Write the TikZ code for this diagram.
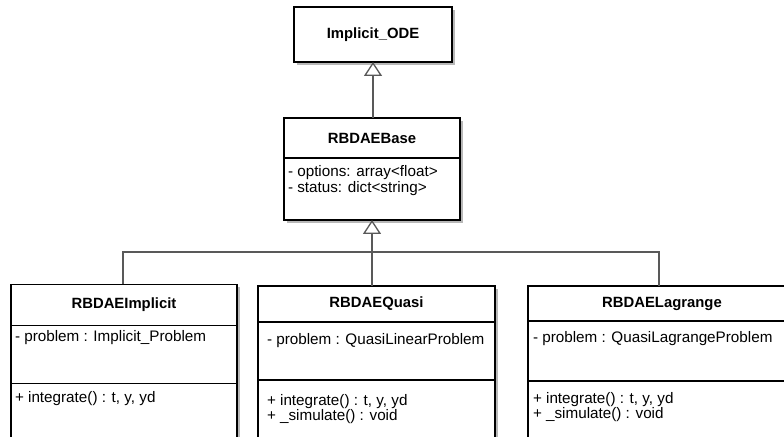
\documentclass[tikz,border=0pt]{standalone}
\usepackage{fontspec}
\setmainfont{Liberation Sans}
\usetikzlibrary{arrows.meta,shadows}
\begin{document}
\begin{tikzpicture}[x=1bp,y=-1bp,
  every node/.style={inner sep=0pt,outer sep=0pt},
  umlbox/.style={draw=black,line width=1.8bp,fill=white,rectangle,
    drop shadow={shadow xshift=3bp,shadow yshift=-3bp,fill=black!28,opacity=1}},
  hdr/.style={umlbox,font=\fontsize{14.9}{16}\selectfont\bfseries},
  txt/.style={anchor=base west,font=\fontsize{15.3}{16}\selectfont},
  conn/.style={draw=black!65,line width=1.3bp},
  inh/.style={conn,-{Triangle[open,length=14bp,width=18bp,line width=1.3bp,fill=white]}}
]
\useasboundingbox (0,0) rectangle (784,437);
\fill[white] (0,0) rectangle (784,437);

% Implicit_ODE
\node[hdr,minimum width=158bp,minimum height=55bp] (ode) at (373,34.5) {Implicit\_ODE};

% RBDAEBase
\node[hdr,minimum width=176bp,minimum height=40bp] (base) at (372,138) {RBDAEBase};
\node[umlbox,minimum width=176bp,minimum height=62bp,anchor=north] (baseA) at (base.south) {};
\node[txt] (baseA1) at (288,177) {- options: array<float>};
\node[txt] (baseA2) at (288,193) {- status: dict<string>};

% RBDAEImplicit
\node[hdr,minimum width=226bp,minimum height=41bp] (impl) at (124,305) {RBDAEImplicit};
\node[umlbox,minimum width=226bp,minimum height=58bp,anchor=north] (implA) at (impl.south) {};
\node[umlbox,minimum width=226bp,minimum height=60bp,anchor=north] (implM) at (implA.south) {};
\node[txt] (implA1) at (15,342) {- problem : Implicit\_Problem};
\node[txt] (implM1) at (15,402) {+ integrate() : t, y, yd};

% RBDAEQuasi
\node[hdr,minimum width=237bp,minimum height=36bp] (quasi) at (376.5,304) {RBDAEQuasi};
\node[umlbox,minimum width=237bp,minimum height=58bp,anchor=north] (quasiA) at (quasi.south) {};
\node[umlbox,minimum width=237bp,minimum height=62bp,anchor=north] (quasiM) at (quasiA.south) {};
\node[txt] (quasiA1) at (267,345) {- problem : QuasiLinearProblem};
\node[txt] (quasiM1) at (267,405) {+ integrate() : t, y, yd};
\node[txt] (quasiM2) at (267,420) {+ \_simulate() : void};

% RBDAELagrange
\node[hdr,minimum width=268bp,minimum height=35bp] (lag) at (662,303.5) {RBDAELagrange};
\node[umlbox,minimum width=268bp,minimum height=60bp,anchor=north] (lagA) at (lag.south) {};
\node[umlbox,minimum width=268bp,minimum height=62bp,anchor=north] (lagM) at (lagA.south) {};
\node[txt] (lagA1) at (533,343) {- problem : QuasiLagrangeProblem};
\node[txt] (lagM1) at (533,403) {+ integrate() : t, y, yd};
\node[txt] (lagM2) at (533,418) {+ \_simulate() : void};

% connectors
\draw[inh] (base.north -| ode.south) -- (ode.south);
\coordinate (j) at (372,252);
\draw[inh] (j) -- (j |- baseA.south);
\draw[conn] ([xshift=-1bp]impl.north) |- (j);
\draw[conn] ([xshift=-3bp]lag.north) |- (j);
\draw[conn] (quasi.north -| j) -- (j);
\end{tikzpicture}
\end{document}
